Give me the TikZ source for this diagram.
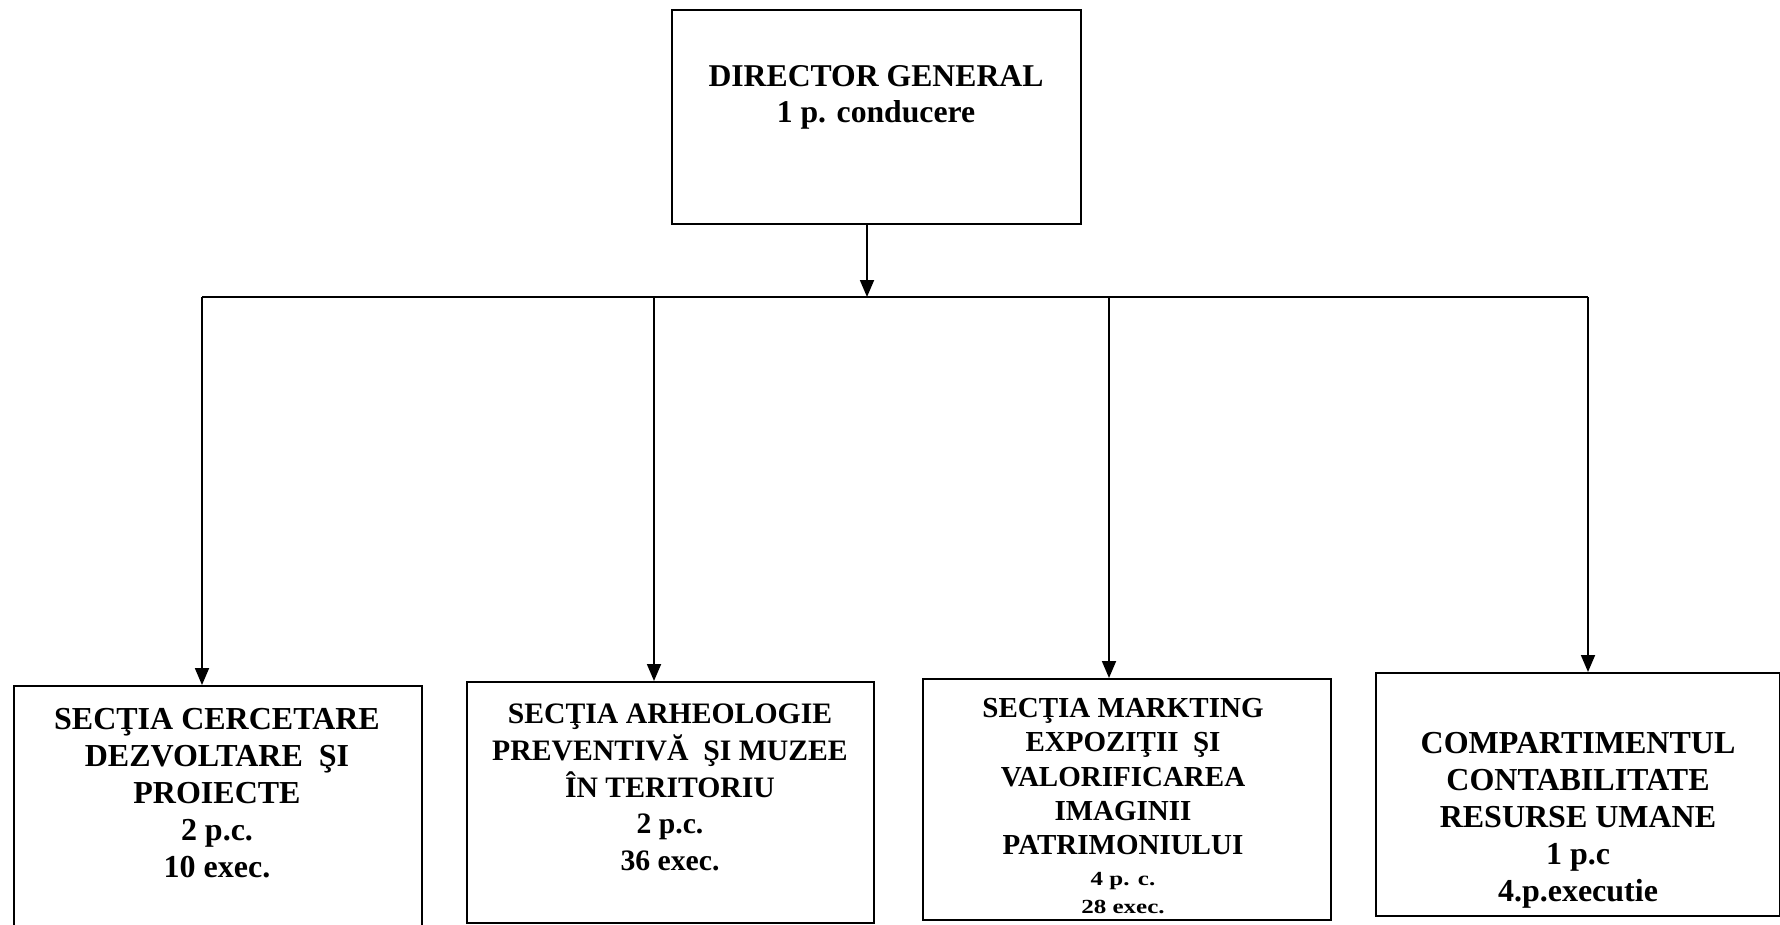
\documentclass[tikz,border=0pt]{standalone}
\usepackage{fontspec}
\setmainfont{Liberation Serif}
\newfontfamily\widefont{Liberation Serif}[FakeStretch=1.25]
\usetikzlibrary{arrows.meta,positioning}
\tikzset{
  unit/.style={draw, line width=2pt, inner sep=0pt, anchor=north west},
  txt/.style={anchor=north, align=center, inner sep=0pt},
  link/.style={line width=1.8pt},
  feed/.style={link, -{Triangle[length=17pt,width=14pt]}}
}
\newcommand{\smallfnt}{\widefont\bfseries\fontsize{20}{28}\selectfont}
\begin{document}
\begin{tikzpicture}[x=1pt,y=-1pt]
\useasboundingbox (0,0) rectangle (1780,924);
\node[unit, minimum width=409pt, minimum height=214pt] (dg) at (671,9) {};
\node[unit, minimum width=408pt, minimum height=275pt] (s1) at (13,685) {};
\node[unit, minimum width=407pt, minimum height=241pt] (s2) at (466,681) {};
\node[unit, minimum width=408pt, minimum height=241pt] (s3) at (922,678) {};
\node[unit, minimum width=404pt, minimum height=243pt] (s4) at (1375,672) {};
\node[txt, font=\bfseries\fontsize{31.7}{36}\selectfont] (dgt) at (876,65) {DIRECTOR GENERAL\\1 p. conducere};
\node[txt, font=\bfseries\fontsize{32}{36.9}\selectfont] (s1t) at (217,708)
  {SECŢIA CERCETARE\\DEZVOLTARE\ \ ŞI\\PROIECTE\\2 p.c.\\10 exec.};
\node[txt, font=\bfseries\fontsize{29.7}{36.6}\selectfont] (s2t) at (670,704)
  {SECŢIA ARHEOLOGIE\\PREVENTIVĂ\ \ ŞI MUZEE\\ÎN TERITORIU\\2 p.c.\\36 exec.};
\node[txt, font=\bfseries\fontsize{29}{34.3}\selectfont] (s3t) at (1123,698)
  {SECŢIA MARKTING\\EXPOZIŢII\ \ ŞI\\VALORIFICAREA\\IMAGINII\\PATRIMONIULUI\\[-3.7pt]
   {\smallfnt 4 p. c.}\\[-6pt]{\smallfnt 28 exec.}};
\node[txt, font=\bfseries\fontsize{32}{36.9}\selectfont] (s4t) at (1578,732)
  {COMPARTIMENTUL\\CONTABILITATE\\RESURSE UMANE\\1 p.c\\4.p.executie};
\coordinate (top) at (867,223);
\coordinate (bus) at (867,297);
\coordinate (busL) at (202,297);
\coordinate (bus2) at (654,297);
\coordinate (bus3) at (1109,297);
\coordinate (busR) at (1588,297);
\draw[feed] (top) -- (bus);
\draw[link] (busL) -- (busR);
\draw[feed] (busL) -- (busL |- s1.north);
\draw[feed] (bus2) -- (bus2 |- s2.north);
\draw[feed] (bus3) -- (bus3 |- s3.north);
\draw[feed] (busR) -- (busR |- s4.north);
\end{tikzpicture}
\end{document}
